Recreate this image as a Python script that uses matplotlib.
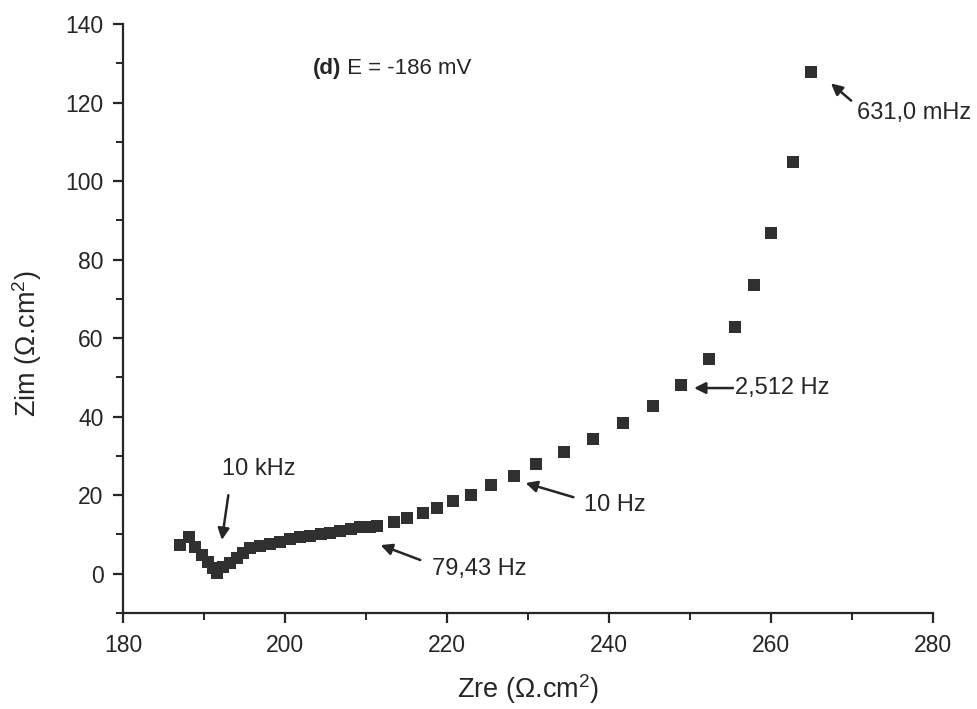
import matplotlib
matplotlib.use("Agg")
import matplotlib.pyplot as plt
from matplotlib.ticker import MultipleLocator

plt.rcParams['font.family'] = ['Liberation Sans', 'DejaVu Sans']
plt.rcParams['mathtext.fontset'] = 'custom'
plt.rcParams['mathtext.rm'] = 'Liberation Sans'
plt.rcParams['mathtext.it'] = 'Liberation Sans:italic'
plt.rcParams['mathtext.bf'] = 'Liberation Sans:bold'

# Nyquist data (high frequency on the left, low frequency on the right)
zre = [187.0, 188.2, 188.9, 189.8, 190.5, 191.1, 191.6, 192.4, 193.2, 194.1,
       194.8, 195.7, 196.9, 198.2, 199.4, 200.6, 201.9, 203.1, 204.4, 205.6,
       206.8, 208.1, 209.3, 210.5, 211.4, 213.4, 215.1, 217.0, 218.8, 220.7,
       222.9, 225.4, 228.3, 231.0, 234.5, 238.0, 241.7, 245.4, 248.9, 252.3,
       255.6, 257.9, 260.0, 262.7, 264.9]
zim = [7.3, 9.3, 6.8, 4.8, 3.0, 1.5, 0.2, 1.7, 2.7, 4.0,
       5.3, 6.5, 7.0, 7.6, 8.1, 8.8, 9.3, 9.6, 10.1, 10.4,
       10.9, 11.4, 11.9, 12.0, 12.1, 13.2, 14.2, 15.4, 16.7, 18.5,
       20.0, 22.6, 24.9, 27.9, 31.0, 34.3, 38.3, 42.7, 48.0, 54.6,
       62.8, 73.5, 86.9, 105.0, 127.7]

# Frequency labels: text, arrow tip (data), arrow tail (data), text anchor
freq_labels = ["10 kHz", "79,43 Hz", "10 Hz", "2,512 Hz", "631,0 mHz"]
arrow_tips = [(192.2, 8.6), (211.8, 7.3), (229.7, 23.1), (250.5, 47.3), (267.4, 124.9)]
arrow_tails = [(193.0, 20.0), (216.7, 3.5), (235.6, 19.5), (255.3, 47.3), (269.9, 120.5)]
text_pos = [(196.7, 26.6), (218.2, 1.3), (236.9, 17.4), (255.5, 47.3), (270.6, 117.3)]
text_ha = ["center", "left", "left", "left", "left"]

ink = "#262626"

fig = plt.figure(figsize=(9.78, 7.09), dpi=100)
ax = fig.add_axes([0.1258, 0.1354, 0.954 - 0.1258, 0.966 - 0.1354])

ax.plot(zre, zim, linestyle="none", marker="s", markersize=8,
        color="#303030", markeredgewidth=0)

for lab, tip, tail, tp, ha in zip(freq_labels, arrow_tips, arrow_tails, text_pos, text_ha):
    ax.annotate("", xy=tip, xytext=tail,
                arrowprops=dict(arrowstyle="-|>", color=ink, lw=1.8,
                                mutation_scale=17, shrinkA=0, shrinkB=0))
    ax.text(tp[0], tp[1], lab, ha=ha, va="center", fontsize=17, color=ink)

# Panel title: bold tag followed by the potential
t1 = ax.text(203.4, 128.7, "(d)", fontsize=16, fontweight="bold",
             ha="left", va="center", color=ink)
ax.annotate(" E = -186 mV", xy=(1, 0.5), xycoords=t1, ha="left", va="center",
            fontsize=16, color=ink)

ax.set_xlim(180, 280)
ax.set_ylim(-10, 140)
ax.xaxis.set_major_locator(MultipleLocator(20))
ax.xaxis.set_minor_locator(MultipleLocator(10))
ax.yaxis.set_major_locator(MultipleLocator(20))
ax.yaxis.set_minor_locator(MultipleLocator(10))

for side in ("top", "right"):
    ax.spines[side].set_visible(False)
for side in ("left", "bottom"):
    ax.spines[side].set_linewidth(1.6)
    ax.spines[side].set_color(ink)

ax.tick_params(which="major", direction="out", length=7, width=1.6,
               labelsize=16.5, colors=ink)
ax.tick_params(axis="y", which="major", pad=7)
ax.tick_params(axis="x", which="major", pad=8)
ax.tick_params(which="minor", direction="out", length=5, width=1.4, colors=ink)

ax.set_xlabel("Zre (Ω.cm$^{2}$)", fontsize=19.5, color=ink)
ax.set_ylabel("Zim (Ω.cm$^{2}$)", fontsize=19.5, color=ink)
ax.xaxis.set_label_coords(0.5, -0.100)
ax.yaxis.set_label_coords(-0.098, 0.458)

fig.savefig("out.png", dpi=100)
